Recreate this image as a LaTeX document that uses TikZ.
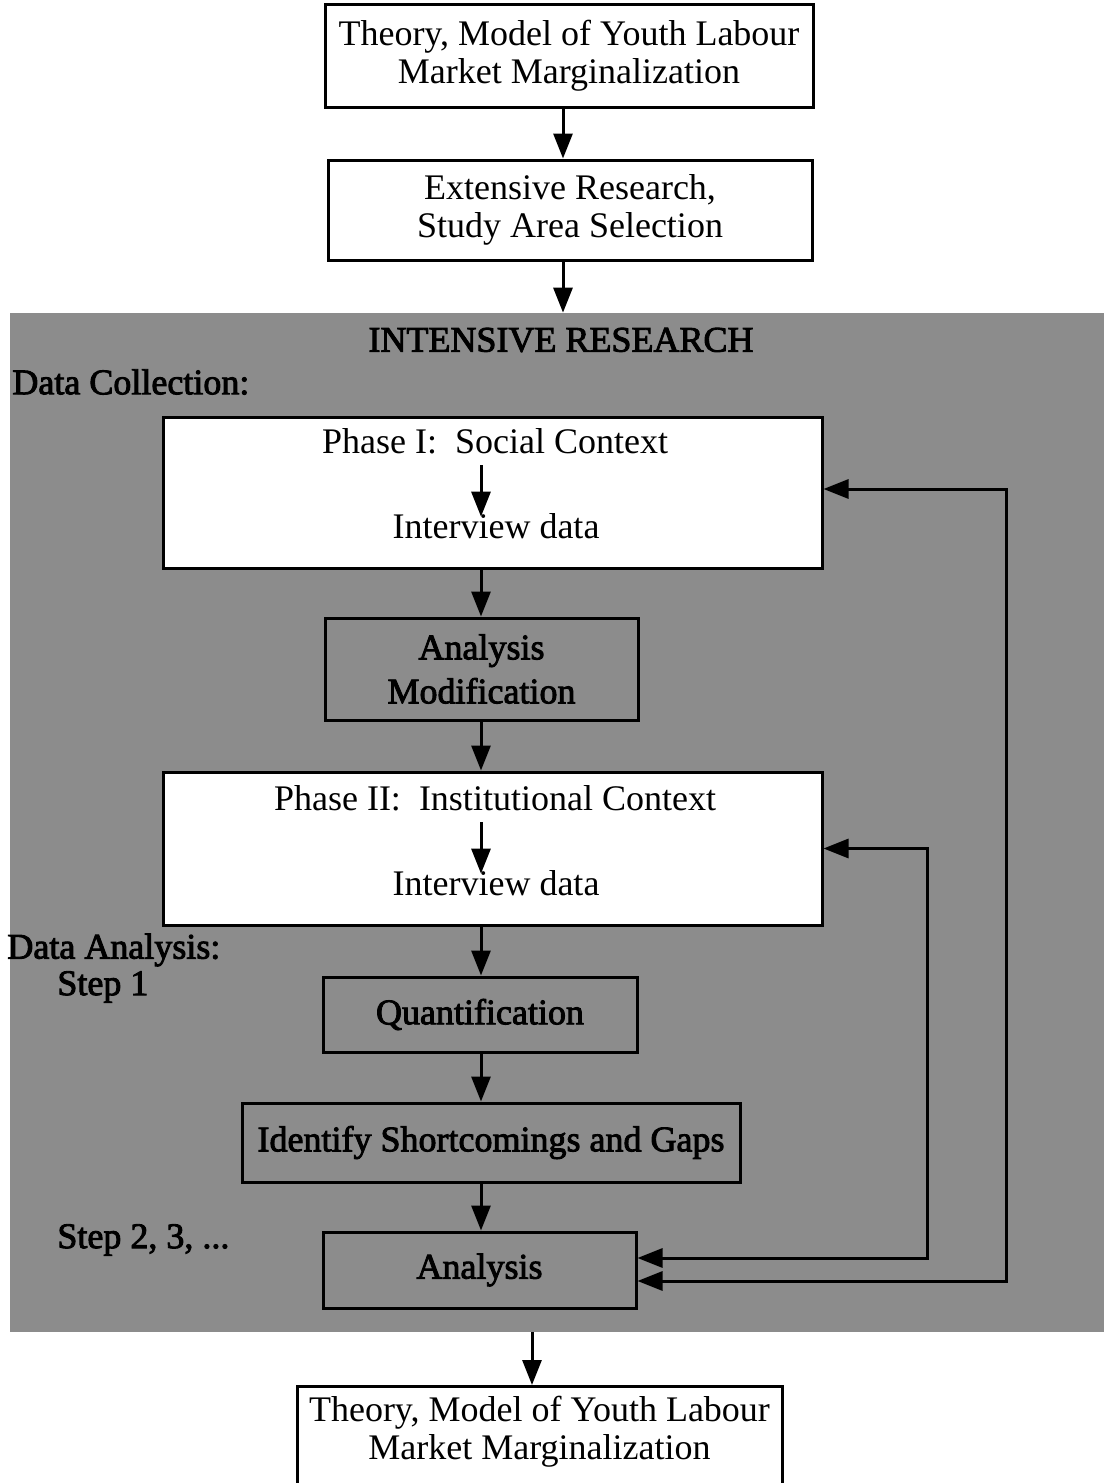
\documentclass[tikz,border=0pt]{standalone}
\usepackage{fontspec}
\setmainfont{Liberation Serif}
% heavier face for the labels printed on the screened background
\newfontfamily\screenfont{Liberation Serif}[FakeBold=2.5]
\usetikzlibrary{arrows.meta}
\definecolor{halftone}{gray}{0.55}
\begin{document}
\begin{tikzpicture}[x=0.5pt,y=-0.5pt,
  every node/.style={inner sep=0pt, font=\fontsize{18pt}{19pt}\selectfont},
  box/.style={draw, line width=1.5pt, fill=white, align=center},
  greybox/.style={draw, line width=1.5pt, fill=halftone, align=center,
    font=\fontsize{18pt}{22pt}\selectfont\screenfont},
  sidetext/.style={anchor=west, font=\fontsize{18pt}{19pt}\selectfont\screenfont},
  phasetext/.style={anchor=base, text height=10.5pt, text depth=6pt},
  tip/.style={},
  arr/.style={line width=1.5pt, -{Triangle[length=12.5pt,width=9.5pt]}},
  biarr/.style={line width=1.5pt, {Triangle[length=12.5pt,width=9.5pt]}-{Triangle[length=12.5pt,width=9.5pt]}}
]
\useasboundingbox (0,0) rectangle (1105,1483);

% guide lines for the vertical connectors
\coordinate (topx) at (563,0);
\coordinate (spine) at (481,0);
\coordinate (botx) at (532,0);
\coordinate (outerx) at (1006,900);
\coordinate (innerx) at (927,900);

% opening stages
\node[box, minimum width=244pt, minimum height=51.5pt] (top) at (569,55.5)
  {Theory, Model of Youth Labour\\Market Marginalization};
\node[box, minimum width=242pt, minimum height=50pt] (ext) at (570,210)
  {Extensive Research,\\Study Area Selection};

% screened panel for the intensive research stage
\node[fill=halftone, minimum width=547pt, minimum height=509.5pt] (region) at (557,822.5) {};
\node[sidetext, anchor=center] (title) at (561,340) {INTENSIVE RESEARCH};
\node[sidetext] (dcol) at (12,382) {Data Collection:};
\node[sidetext] (dana) at (7,950) {Data Analysis:};
\node[sidetext] (step1) at (57,987) {Step 1};
\node[sidetext] (step2) at (57,1240) {Step 2, 3, ...};

% phase I
\node[box, minimum width=329.5pt, minimum height=75.5pt] (p1) at (492.5,492.5) {};
\node[phasetext] (p1t) at (495,453) {Phase I:\ \ Social Context};
\node[phasetext] (p1d) at (496,538) {Interview data};

\node[greybox, minimum width=156.5pt, minimum height=51pt] (am) at (481.5,669)
  {Analysis\\Modification};

% phase II
\node[box, minimum width=329.5pt, minimum height=76.5pt] (p2) at (492.5,848.5) {};
\node[phasetext] (p2t) at (495,810) {Phase II:\ \ Institutional Context};
\node[phasetext] (p2d) at (496,895) {Interview data};

% analysis steps
\node[greybox, minimum width=157pt, minimum height=37.5pt] (quant) at (480,1014.5) {Quantification};
\node[greybox, minimum width=249pt, minimum height=39.5pt] (gaps) at (491,1142.5) {Identify Shortcomings and Gaps};
\node[greybox, minimum width=156.5pt, minimum height=38pt] (anal) at (479.5,1270) {Analysis};

% closing stage
\node[box, minimum width=242.5pt, minimum height=60pt, anchor=north] (bot) at (539.5,1385) {};
\node[align=center] (bottext) at (539.5,1432)
  {Theory, Model of Youth Labour\\Market Marginalization};

% main flow
\draw[arr] (top.south -| topx) -- (ext.north -| topx);
\draw[arr] (ext.south -| topx) -- (region.north -| topx);
\draw[arr] (p1t.south -| spine) -- (p1d.north -| spine);
\draw[arr] (p1.south -| spine) -- (am.north -| spine);
\draw[arr] (am.south -| spine) -- (p2.north -| spine);
\draw[arr] (p2t.south -| spine) -- (p2d.north -| spine);
\draw[arr] (p2.south -| spine) -- (quant.north -| spine);
\draw[arr] (quant.south -| spine) -- (gaps.north -| spine);
\draw[arr] (gaps.south -| spine) -- (anal.north -| spine);
\draw[arr] (region.south -| botx) -- (bot.north -| botx);

% feedback loops from the analysis back to the data collection phases
\coordinate (p1in) at ([yshift=1.75pt]p1.east);
\draw[biarr] ([yshift=-5.5pt]anal.east) -| (outerx) |- (p1in);
\draw[biarr] ([yshift=6pt]anal.east) -| (innerx) |- (p2.east);
\end{tikzpicture}
\end{document}
